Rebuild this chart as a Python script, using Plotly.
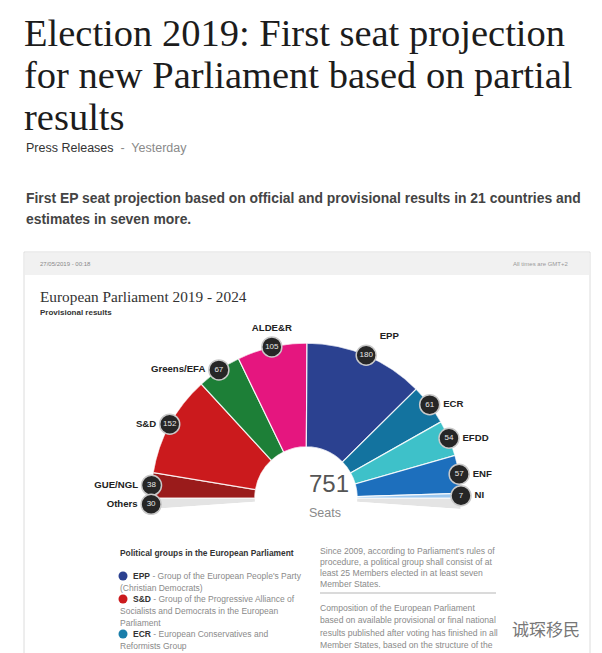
import plotly.graph_objects as go

# the page body adds an 8px margin; the figure fills the rest of the window
OFF = 8
W, H = 602 - OFF, 653 - OFF

# ---------------- data ----------------
groups = ["GUE/NGL", "S&D", "Greens/EFA", "ALDE&R", "EPP", "ECR", "EFDD", "ENF", "NI"]
seats = [38, 152, 67, 105, 180, 61, 54, 57, 7]
colors = ["#9a1b1b", "#cb1a1d", "#1d7f37", "#e5167f", "#2b4190", "#13739f", "#3ec1c9", "#1d6fbd", "#9cc7ee"]
others_label = "Others"
others_seats = 30
label_pos = ["middle left", "middle left", "middle left", "top center", "top right",
             "middle right", "middle right", "middle right", "middle right"]

total_drawn = sum(seats)
total_all = total_drawn + others_seats

# angular geometry from the data (0 deg = left end, clockwise to 180 = right end)
widths = [s / total_drawn * 180 for s in seats]
mids = []
acc = 0.0
for w in widths:
    mids.append(acc + w / 2)
    acc += w

SHADOW = 4  # degrees of the grey "thickness" below the half ring


def X(px):
    return (px - OFF) / W


def Y(py):
    return 1 - (py - OFF) / H


fig = go.Figure()

# grey under-band (Others / shadow)
fig.add_trace(go.Barpolar(
    r=[1, 1], theta=[-SHADOW / 2, 180 + SHADOW / 2], width=[SHADOW, SHADOW],
    marker=dict(color="#e4e4e4", line=dict(width=0)), hoverinfo="skip", showlegend=False))

# the groups
fig.add_trace(go.Barpolar(
    r=[1] * len(seats), theta=mids, width=widths,
    marker=dict(color=colors, line=dict(color="rgba(255,255,255,0.85)", width=1.2)),
    text=groups, hovertemplate="%{text}: %{customdata}<extra></extra>", customdata=seats,
    showlegend=False))

badge_theta = mids + [-SHADOW / 2 - 0.3]
badge_vals = seats + [others_seats]
badge_names = groups + [others_label]
badge_pos = label_pos + ["middle left"]

# group labels (text beside invisible badge-sized markers)
fig.add_trace(go.Scatterpolar(
    r=[1] * len(badge_theta), theta=badge_theta, mode="markers+text",
    marker=dict(size=20, color="rgba(0,0,0,0)"),
    text=badge_names, textposition=badge_pos,
    textfont=dict(family="Liberation Sans", size=9.6, color="#222222", weight="bold"),
    cliponaxis=False, hoverinfo="skip", showlegend=False))

# dark badges
fig.add_trace(go.Scatterpolar(
    r=[1] * len(badge_theta), theta=badge_theta, mode="markers+text",
    marker=dict(size=20, color="#262626", line=dict(color="#c9c9c9", width=1.5)),
    text=[str(v) for v in badge_vals], textposition="middle center",
    textfont=dict(family="Liberation Sans", size=8, color="#e8e8e8"),
    cliponaxis=False, hoverinfo="skip", showlegend=False))

fig.update_layout(
    width=W, height=H, margin=dict(l=0, r=0, t=0, b=0),
    paper_bgcolor="white", plot_bgcolor="white",
    polar=dict(
        domain=dict(x=[X(151), X(461)], y=[Y(509), Y(343)]),
        sector=[-SHADOW, 180 + SHADOW], hole=0.33, bgcolor="rgba(0,0,0,0)",
        radialaxis=dict(visible=False, range=[0, 1]),
        angularaxis=dict(visible=False, rotation=180, direction="clockwise"),
    ),
)

shapes = []
# embedded screenshot frame
shapes.append(dict(type="rect", xref="paper", yref="paper", x0=X(24), x1=X(590), y0=Y(670), y1=Y(252),
                   line=dict(color="#dcdcdc", width=1), fillcolor="white", layer="below"))
shapes.append(dict(type="rect", xref="paper", yref="paper", x0=X(25), x1=X(589), y0=Y(275), y1=Y(253),
                   line=dict(width=0), fillcolor="#f1f1f1", layer="below"))
shapes.append(dict(type="line", xref="paper", yref="paper", x0=X(320), x1=X(496), y0=Y(593), y1=Y(593),
                   line=dict(color="#b5b5b5", width=1)))
# legend dots
for yy, c in [(576, "#2b4190"), (599, "#cb1a1d"), (634, "#1a7eaa")]:
    shapes.append(dict(type="circle", xref="paper", yref="paper",
                       x0=X(118.5), x1=X(127.5), y0=Y(yy + 4.5), y1=Y(yy - 4.5),
                       line=dict(width=0), fillcolor=c))
fig.update_layout(shapes=shapes)

ann = []


def txt(x, y, s, size, color="#222", family="Liberation Sans", anchor="left"):
    ann.append(dict(x=X(x), y=Y(y), xref="paper", yref="paper", text=s, showarrow=False,
                    xanchor=anchor, yanchor="middle", align=anchor,
                    font=dict(family=family, size=size, color=color)))


SERIF = "Liberation Serif"
txt(22, 33, "Election 2019: First seat projection", 38.5, "#1c1c1c", SERIF)
txt(22, 75, "for new Parliament based on partial", 38.5, "#1c1c1c", SERIF)
txt(22, 117, "results", 38.5, "#1c1c1c", SERIF)
txt(24, 148, "Press Releases  <span style='color:#8a8a8a'>-  Yesterday</span>", 12.5, "#333")
txt(24, 198, "<b>First EP seat projection based on official and provisional results in 21 countries and</b>", 13.9, "#444")
txt(24, 219, "<b>estimates in seven more.</b>", 13.9, "#444")

txt(38, 264, "27/05/2019 - 00:18", 6, "#888")
txt(571, 264, "All times are GMT+2", 6, "#999", anchor="right")
txt(38, 297, "European Parliament 2019 - 2024", 15.3, "#333", SERIF)
txt(38, 313, "<b>Provisional results</b>", 8, "#333")

txt(307, 483, str(total_all), 24, "#555")
txt(307, 513, "Seats", 12.5, "#8a8a8a")

# legend block
G = "#8a8a8a"
txt(118, 553, "<b>Political groups in the European Parliament</b>", 8.4, "#333")
txt(131, 576, "<b style='color:#333'>EPP</b> - Group of the European People's Party", 8.5, G)
txt(118, 588, "(Christian Democrats)", 8.5, G)
txt(131, 599, "<b style='color:#333'>S&D</b> - Group of the Progressive Alliance of", 8.5, G)
txt(118, 611, "Socialists and Democrats in the European", 8.5, G)
txt(118, 623, "Parliament", 8.5, G)
txt(131, 634, "<b style='color:#333'>ECR</b> - European Conservatives and", 8.5, G)
txt(118, 646, "Reformists Group", 8.5, G)

txt(318, 551, "Since 2009, according to Parliament's rules of", 8.6, G)
txt(318, 562, "procedure, a political group shall consist of at", 8.6, G)
txt(318, 573, "least 25 Members elected in at least seven", 8.6, G)
txt(318, 584, "Member States.", 8.6, G)
txt(318, 608, "Composition of the European Parliament", 8.6, G)
txt(318, 620, "based on available provisional or final national", 8.6, G)
txt(318, 633, "results published after voting has finished in all", 8.6, G)
txt(318, 645, "Member States, based on the structure of the", 8.6, G)

txt(546, 628, "诚琛移民", 17, "#777", "Noto Sans CJK SC", anchor="center")

fig.update_layout(annotations=ann)
fig.write_html("out.html")
